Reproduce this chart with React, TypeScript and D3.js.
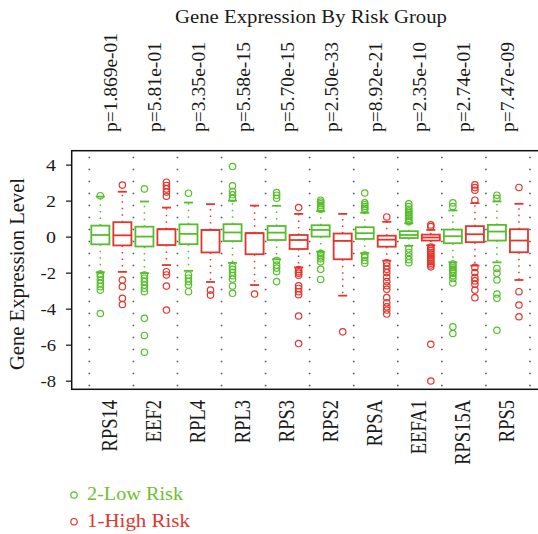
import React from 'react';
import * as d3 from 'd3';

// genes in plot order, p-values printed above each pair
const genes = ['RPS14', 'EEF2', 'RPL4', 'RPL3', 'RPS3', 'RPS2', 'RPSA', 'EEFA1', 'RPS15A', 'RPS5'];
const pLabels = [
  'p=1.869e-01', 'p=5.81e-01', 'p=3.35e-01', 'p=5.58e-15', 'p=5.70e-15',
  'p=2.50e-33', 'p=8.92e-21', 'p=2.35e-10', 'p=2.74e-01', 'p=7.47e-09',
];

// [lower whisker, q1, median, q3, upper whisker]
const lowStats = [
  [-1.95, -0.40, 0.12, 0.64, 2.25],
  [-2.0, -0.52, 0.03, 0.58, 1.98],
  [-1.87, -0.39, 0.18, 0.71, 1.92],
  [-1.43, -0.22, 0.26, 0.72, 2.03],
  [-1.23, -0.16, 0.25, 0.62, 1.74],
  [-0.81, 0.03, 0.40, 0.66, 1.44],
  [-0.88, -0.10, 0.22, 0.55, 1.35],
  [-0.48, -0.05, 0.12, 0.33, 0.77],
  [-1.40, -0.34, 0.05, 0.42, 1.48],
  [-1.40, -0.19, 0.31, 0.68, 1.98],
];
const highStats = [
  [-1.93, -0.46, 0.10, 0.83, 2.52],
  [-1.55, -0.44, 0.44, 0.44, 1.64],
  [-2.49, -0.85, 0.40, 0.40, 1.83],
  [-2.66, -0.95, 0.22, 0.22, 1.75],
  [-1.68, -0.66, -0.16, 0.12, 1.29],
  [-3.25, -1.23, -0.21, 0.20, 1.29],
  [-1.31, -0.53, -0.14, 0.08, 0.85],
  [-0.45, -0.19, -0.02, 0.14, 0.40],
  [-1.58, -0.28, 0.16, 0.61, 1.89],
  [-2.38, -0.84, -0.19, 0.44, 1.85],
];

const lowOut = [
  [2.3, -2.05, -2.19, -2.38, -2.56, -2.75, -2.94, -4.24],
  [2.68, -2.1, -2.28, -2.47, -2.66, -2.84, -3.03, -4.51, -5.46, -6.39],
  [2.44, -2.1, -2.28, -2.47, -2.66, -3.03],
  [3.92, 2.85, 2.53, 2.35, 2.16, -1.64, -1.79, -1.95, -2.14, -2.33, -2.72, -3.12],
  [2.48, 2.33, 2.16, -1.3, -1.55, -1.72, -1.92, -2.47],
  [1.55, 1.65, 1.75, 1.85, 1.95, 2.05, -0.9, -1.0, -1.1, -1.2, -1.36, -1.79, -2.35],
  [1.5, 1.6, 1.7, 1.8, 1.9, 2.45, -1.0, -1.12, -1.3, -1.45],
  [0.85, 0.95, 1.05, 1.15, 1.25, 1.35, 1.45, 1.55, 1.7, 1.85, -0.65, -0.85, -1.05, -1.25, -1.42],
  [1.7, 1.9, -1.5, -1.6, -1.7, -1.8, -1.9, -2.0, -2.15, -2.3, -2.55, -4.98, -5.35],
  [2.16, 2.33, -1.74, -2.0, -2.38, -3.16, -3.4, -5.17],
];
const highOut = [
  [2.89, -2.38, -2.75, -3.40, -3.74],
  [3.05, 2.87, 2.68, 2.5, 2.27, -1.92, -2.1, -2.72, -4.05],
  [-2.94, -3.22],
  [-3.16],
  [1.64, -1.8, -1.92, -2.0, -2.12, -2.7, -2.85, -3.03, -3.2, -4.38, -5.91],
  [-5.26],
  [1.12, -1.42, -1.6, -1.79, -1.97, -2.23, -2.47, -2.7, -2.9, -3.36, -3.64, -3.87, -4.05, -4.27],
  [0.59, 0.68, -0.55, -0.65, -0.75, -0.85, -0.95, -1.05, -1.15, -1.25, -1.35, -1.45, -1.55, -1.65, -5.95, -7.99],
  [2.05, 2.6, 2.75, 2.9, -1.68, -1.97, -2.25, -2.43, -2.62, -2.94, -3.36],
  [2.76, -3.03, -3.77, -4.42],
];

const yTicks = [4, 2, 0, -2, -4, -6, -8];

const GREEN = '#55be2b';
const RED = '#e2352c';
const FONT = "'Liberation Serif', 'Times New Roman', serif";

const W = 538;
const H = 534;

export default function App() {
  const x = d3.scaleLinear().domain([-0.3, 21.3]).range([71.7, 547.6]);
  const y = d3.scaleLinear().domain([-8.45, 4.8]).range([389.3, 150.7]);
  const unit = x(1) - x(0);
  const bw = unit * 0.82;
  const [top, bottom] = [y(4.8), y(-8.45)];
  const gridPos = d3.range(0.5, 21, 2);

  const drawBox = (s: number[], outs: number[], pos: number, color: string, key: string) => {
    const cx = x(pos);
    const [lo, q1, med, q3, hi] = s;
    return (
      <g key={key} stroke={color} fill="none">
        <line x1={cx} x2={cx} y1={y(q3)} y2={y(hi)} strokeWidth={1.5} strokeDasharray="1.5,5" />
        <line x1={cx} x2={cx} y1={y(q1)} y2={y(lo)} strokeWidth={1.5} strokeDasharray="1.5,5" />
        <line x1={cx - bw / 4} x2={cx + bw / 4} y1={y(hi)} y2={y(hi)} strokeWidth={1.8} />
        <line x1={cx - bw / 4} x2={cx + bw / 4} y1={y(lo)} y2={y(lo)} strokeWidth={1.8} />
        <rect x={cx - bw / 2} y={y(q3)} width={bw} height={y(q1) - y(q3)} fill="#fff" strokeWidth={1.8} />
        <line x1={cx - bw / 2} x2={cx + bw / 2} y1={y(med)} y2={y(med)} strokeWidth={1.8} />
        {outs.map((o, j) => (
          <circle key={j} cx={cx} cy={y(o)} r={3.2} strokeWidth={1.2} />
        ))}
      </g>
    );
  };

  return (
    <svg width={W} height={H} style={{ position: 'absolute', left: 0, top: 0, background: '#fff' }} fontFamily={FONT}>
      <text x={311} y={23} fontSize={18.5} textAnchor="middle" textLength={272} lengthAdjust="spacingAndGlyphs" fill="#1a1a1a">
        Gene Expression By Risk Group
      </text>

      {pLabels.map((p, i) => (
        <text key={p} transform={`translate(${x(2 * i + 1.5) + 6},132) scale(1.15,1) rotate(-90)`} fontSize={16.5}
          textLength={p.length * 9} lengthAdjust="spacingAndGlyphs" fill="#1a1a1a">
          {p}
        </text>
      ))}

      {/* vertical dotted separators */}
      {gridPos.map((g) => (
        <line key={g} x1={x(g)} x2={x(g)} y1={top + 6} y2={bottom} stroke="#555" strokeWidth={1.6} strokeDasharray="1.5,10.5" />
      ))}

      {genes.map((g, i) => [
        drawBox(lowStats[i], lowOut[i], 2 * i + 1, GREEN, g + 'l'),
        drawBox(highStats[i], highOut[i], 2 * i + 2, RED, g + 'h'),
      ])}

      <rect x={71.7} y={top} width={W} height={bottom - top} fill="none" stroke="#111" strokeWidth={1.5} />

      {yTicks.map((t) => (
        <g key={t}>
          <line x1={66} x2={71.7} y1={y(t)} y2={y(t)} stroke="#111" strokeWidth={1.2} />
          <text x={56} y={y(t) + 5.5} fontSize={16} textAnchor="end" textLength={t < 0 ? 15.5 : 10}
            lengthAdjust="spacingAndGlyphs" fill="#1a1a1a">
            {t}
          </text>
        </g>
      ))}

      <text transform="translate(23.5,274) scale(1.12,1) rotate(-90)" fontSize={18} textAnchor="middle" textLength={192}
        lengthAdjust="spacingAndGlyphs" fill="#1a1a1a">
        Gene Expression Level
      </text>

      {genes.map((g, i) => (
        <text key={g} transform={`translate(${x(2 * i + 1.5) + 6},400) scale(1.25,1) rotate(-90)`} fontSize={18.5}
          textAnchor="end" fill="#1a1a1a">
          {g}
        </text>
      ))}

      <circle cx={74} cy={495} r={3.2} fill="none" stroke={GREEN} strokeWidth={1.2} />
      <text x={87} y={500} fontSize={19} textLength={96} lengthAdjust="spacingAndGlyphs" fill="#6fbf2e">
        2-Low Risk
      </text>
      <circle cx={74} cy={521.7} r={3.2} fill="none" stroke={RED} strokeWidth={1.2} />
      <text x={87} y={527} fontSize={19} textLength={103} lengthAdjust="spacingAndGlyphs" fill={RED}>
        1-High Risk
      </text>
    </svg>
  );
}
